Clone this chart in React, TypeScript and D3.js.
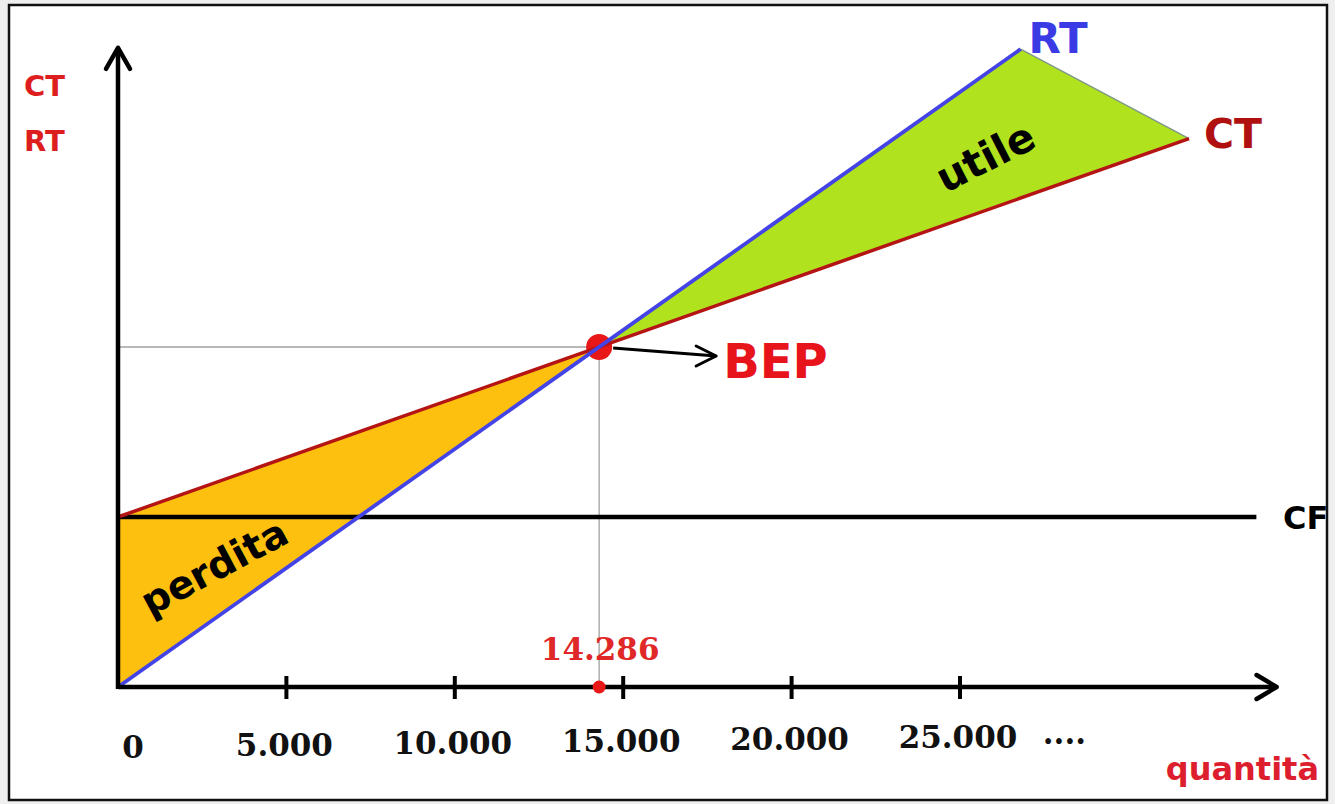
import React from "react";
import * as d3 from "d3";

// ---- data ----
const fixedCost = 100000; // CF
const price = 14; // revenue per unit (RT slope)
const unitVarCost = 7; // variable cost per unit (CT slope)
const bepQ = 14286; // break-even quantity
const rtEndQ = 26800; // where RT line ends
const ctEndQ = 31800; // where CT line ends
const cfEndQ = 33800; // where CF line ends
const xAxisMaxQ = 34400;
const yAxisMaxV = 376000;
const tickValues = [0, 5000, 10000, 15000, 20000, 25000];
const tickLabels = ["0", "5.000", "10.000", "15.000", "20.000", "25.000"];
const moreLabelQ = 28100;
const moreLabel = "....";
const bepLabel = "14.286";

const W = 1335;
const H = 804;

export default function App() {
  const x = d3.scaleLinear().domain([0, 25000]).range([118, 960]);
  const y = d3.scaleLinear().domain([0, fixedCost]).range([687, 517]);

  const rt = (q: number) => price * q;
  const ct = (q: number) => fixedCost + unitVarCost * q;

  const line = d3
    .line<[number, number]>()
    .x((d) => x(d[0]))
    .y((d) => y(d[1]));

  const bepV = rt(bepQ);
  const bx = x(bepQ);
  const by = y(bepV);
  const x0 = x(0);
  const y0 = y(0);

  const greenPoly: [number, number][] = [
    [bepQ, bepV],
    [rtEndQ, rt(rtEndQ)],
    [ctEndQ, ct(ctEndQ)],
  ];
  const orangePoly: [number, number][] = [
    [0, fixedCost],
    [bepQ, ct(bepQ)],
    [0, 0],
  ];

  const xTip = x(xAxisMaxQ);
  const yTip = y(yAxisMaxV);

  const sans = "'DejaVu Sans', Verdana, sans-serif";
  const serif = "'DejaVu Serif', Georgia, serif";

  return (
    <svg
      width={W}
      height={H}
      style={{ position: "fixed", left: 0, top: 0, display: "block" }}
    >
      <rect x={0} y={0} width={W} height={H} fill="#efefef" />
      <rect x={9} y={5} width={1318} height={795} fill="#ffffff" stroke="#111" strokeWidth={2.5} />

      {/* fills */}
      <path d={line(orangePoly)! + "Z"} fill="#FDC00F" />
      <path d={line(greenPoly)! + "Z"} fill="#B1E21E" />
      <path
        d={line([greenPoly[1], greenPoly[2]])!}
        stroke="#7f9a86"
        strokeWidth={1.5}
        fill="none"
      />

      {/* guides */}
      <line x1={x0} y1={by} x2={bx} y2={by} stroke="#a0a0a0" strokeWidth={1.3} />
      <line x1={bx} y1={by} x2={bx} y2={y0} stroke="#a0a0a0" strokeWidth={1.3} />

      {/* BEP dot */}
      <circle cx={bx} cy={by} r={13} fill="#E81818" />

      {/* CF line */}
      <path d={line([[0, fixedCost], [cfEndQ, fixedCost]])!} stroke="#000" strokeWidth={4.5} fill="none" />

      {/* CT & RT */}
      <path d={line([[0, ct(0)], [ctEndQ, ct(ctEndQ)]])!} stroke="#B41414" strokeWidth={3.5} fill="none" />
      <path d={line([[0, 0], [rtEndQ, rt(rtEndQ)]])!} stroke="#4343E6" strokeWidth={3.8} fill="none" />

      {/* axes */}
      <line x1={x0} y1={y0} x2={xTip} y2={y0} stroke="#000" strokeWidth={4.5} />
      <path
        d={`M${xTip - 20},${y0 - 12} L${xTip},${y0} L${xTip - 20},${y0 + 12}`}
        stroke="#000"
        strokeWidth={4.5}
        fill="none"
        strokeLinecap="round"
        strokeLinejoin="round"
      />
      <line x1={x0} y1={y0 + 2} x2={x0} y2={yTip} stroke="#000" strokeWidth={4.5} />
      <path
        d={`M${x0 - 12},${yTip + 21} L${x0},${yTip} L${x0 + 12},${yTip + 21}`}
        stroke="#000"
        strokeWidth={4.5}
        fill="none"
        strokeLinecap="round"
        strokeLinejoin="round"
      />

      {/* ticks */}
      {tickValues
        .filter((v) => v > 0)
        .map((v) => (
          <line key={v} x1={x(v)} y1={y0 - 11} x2={x(v)} y2={y0 + 12} stroke="#000" strokeWidth={4} />
        ))}
      {tickValues.map((v, i) => (
        <text
          key={"l" + v}
          x={x(v) + (v === 0 ? 15 : -2)}
          y={758 - i * 2}
          textAnchor="middle"
          fontFamily={serif}
          fontWeight="bold"
          fontSize={31}
          fill="#111"
        >
          {tickLabels[i]}
        </text>
      ))}
      <text
        x={x(moreLabelQ)}
        y={744}
        textAnchor="middle"
        fontFamily={serif}
        fontWeight="bold"
        fontSize={31}
        fill="#111"
      >
        {moreLabel}
      </text>

      {/* BEP marker on x axis */}
      <circle cx={bx} cy={y0} r={6.5} fill="#E81818" />
      <text
        x={bx + 1}
        y={660}
        textAnchor="middle"
        fontFamily={serif}
        fontWeight="bold"
        fontSize={31}
        fill="#E02828"
      >
        {bepLabel}
      </text>

      {/* BEP arrow and label */}
      <path
        d={`M${bx + 14},${by + 1} L${bx + 117},${by + 9}`}
        stroke="#000"
        strokeWidth={3}
        fill="none"
      />
      <path
        d={`M${bx + 97},${by - 1} L${bx + 117},${by + 9} L${bx + 97},${by + 19}`}
        stroke="#000"
        strokeWidth={3}
        fill="none"
        strokeLinecap="round"
        strokeLinejoin="round"
      />
      <text x={bx + 124} y={378} fontFamily={sans} fontWeight="bold" fontSize={48} fill="#E8141C">
        BEP
      </text>

      {/* line labels */}
      <text x={x(rtEndQ) + 8} y={53} fontFamily={sans} fontWeight="bold" fontSize={42} fill="#3B3BE6">
        RT
      </text>
      <text x={x(ctEndQ) + 15} y={148} fontFamily={sans} fontWeight="bold" fontSize={41} fill="#B01010">
        CT
      </text>
      <text x={1283} y={529} fontFamily={sans} fontWeight="bold" fontSize={32} fill="#000">
        CF
      </text>

      {/* axis labels */}
      <text x={24} y={96} fontFamily={sans} fontWeight="bold" fontSize={29} fill="#DD1E1E">
        CT
      </text>
      <text x={24} y={151} fontFamily={sans} fontWeight="bold" fontSize={29} fill="#DD1E1E">
        RT
      </text>
      <text
        x={1319}
        y={780}
        textAnchor="end"
        fontFamily={sans}
        fontWeight="bold"
        fontSize={32}
        fill="#DD1E2E"
      >
        quantità
      </text>

      {/* area labels */}
      <text
        transform={`translate(${x(2900)},${y(69000)}) rotate(-28)`}
        textAnchor="middle"
        dominantBaseline="middle"
        fontFamily={sans}
        fontWeight="bold"
        fontSize={39}
        fill="#000"
      >
        perdita
      </text>
      <text
        transform={`translate(${x(25800)},${y(310000)}) rotate(-27)`}
        textAnchor="middle"
        dominantBaseline="middle"
        fontFamily={sans}
        fontWeight="bold"
        fontSize={41}
        fill="#000"
      >
        utile
      </text>
    </svg>
  );
}
